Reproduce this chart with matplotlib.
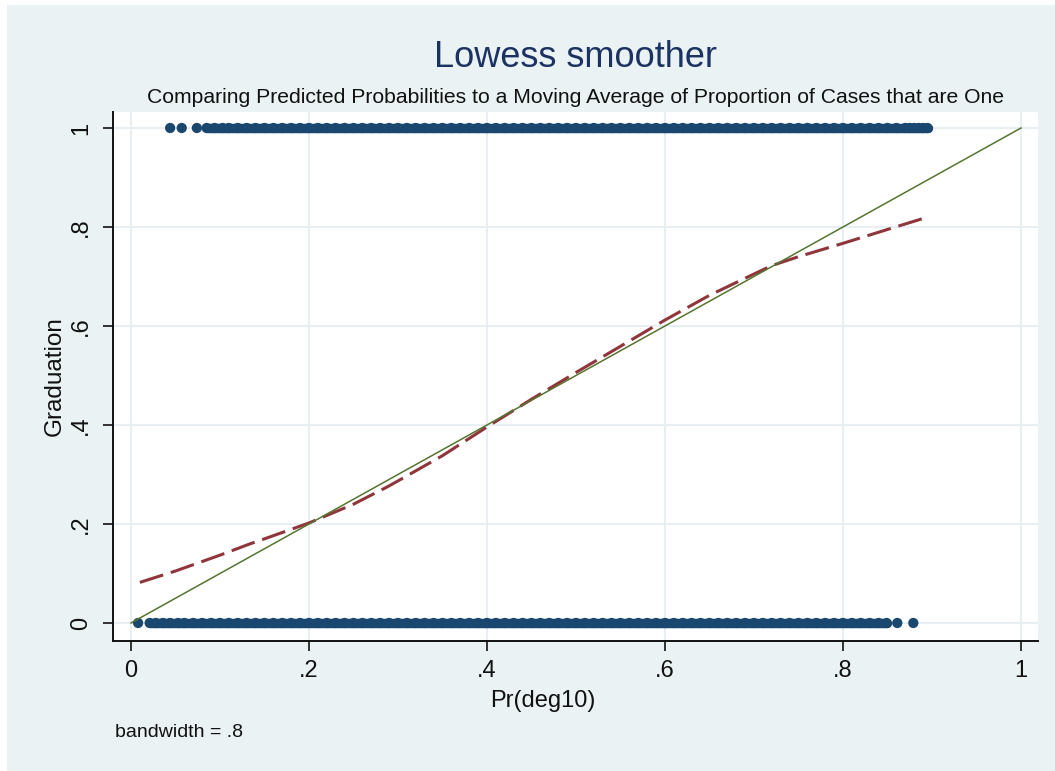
import matplotlib
matplotlib.use("Agg")
import matplotlib.pyplot as plt
from matplotlib.patches import Rectangle

plt.rcParams['font.family'] = ['Liberation Sans', 'DejaVu Sans']

# ---------------- data ----------------
title = "Lowess smoother"
subtitle = "Comparing Predicted Probabilities to a Moving Average of Proportion of Cases that are One"
xlabel = "Pr(deg10)"
ylabel = "Graduation"
note = "bandwidth = .8"

tick_values = [0, 0.2, 0.4, 0.6, 0.8, 1]
tick_labels = ["0", ".2", ".4", ".6", ".8", "1"]

# predicted probabilities of cases with graduation = 1
grad1_x = [0.044, 0.057, 0.074, 0.085, 0.094, 0.103,
           0.11, 0.12, 0.13, 0.14, 0.15, 0.16, 0.17, 0.18, 0.19, 0.20,
           0.21, 0.22, 0.23, 0.24, 0.25, 0.26, 0.27, 0.28, 0.29, 0.30,
           0.31, 0.32, 0.33, 0.34, 0.35, 0.36, 0.37, 0.38, 0.39, 0.40,
           0.41, 0.42, 0.43, 0.44, 0.45, 0.46, 0.47, 0.48, 0.49, 0.50,
           0.51, 0.52, 0.53, 0.54, 0.55, 0.56, 0.57, 0.58, 0.59, 0.60,
           0.61, 0.62, 0.63, 0.64, 0.65, 0.66, 0.67, 0.68, 0.69, 0.70,
           0.71, 0.72, 0.73, 0.74, 0.75, 0.76, 0.77, 0.78, 0.79, 0.80,
           0.81, 0.82, 0.83, 0.84, 0.85, 0.86, 0.87, 0.875, 0.88, 0.885,
           0.89, 0.895]
grad1_y = [1] * len(grad1_x)

# predicted probabilities of cases with graduation = 0
grad0_x = [0.008, 0.021, 0.028, 0.036, 0.044, 0.053,
           0.06, 0.07, 0.08, 0.09, 0.10,
           0.11, 0.12, 0.13, 0.14, 0.15, 0.16, 0.17, 0.18, 0.19, 0.20,
           0.21, 0.22, 0.23, 0.24, 0.25, 0.26, 0.27, 0.28, 0.29, 0.30,
           0.31, 0.32, 0.33, 0.34, 0.35, 0.36, 0.37, 0.38, 0.39, 0.40,
           0.41, 0.42, 0.43, 0.44, 0.45, 0.46, 0.47, 0.48, 0.49, 0.50,
           0.51, 0.52, 0.53, 0.54, 0.55, 0.56, 0.57, 0.58, 0.59, 0.60,
           0.61, 0.62, 0.63, 0.64, 0.65, 0.66, 0.67, 0.68, 0.69, 0.70,
           0.71, 0.72, 0.73, 0.74, 0.75, 0.76, 0.77, 0.78, 0.79, 0.80,
           0.81, 0.82, 0.83, 0.84, 0.849, 0.861, 0.879]
grad0_y = [0] * len(grad0_x)

# lowess smooth
lowess_x = [0.01, 0.05, 0.10, 0.134, 0.15, 0.20, 0.25, 0.288, 0.30, 0.35,
            0.40, 0.45, 0.50, 0.55, 0.60, 0.65, 0.70, 0.72, 0.75, 0.80,
            0.85, 0.895]
lowess_y = [0.082, 0.105, 0.137, 0.160, 0.170, 0.202, 0.240, 0.275, 0.287, 0.338,
            0.396, 0.452, 0.506, 0.559, 0.612, 0.662, 0.705, 0.722, 0.740, 0.767,
            0.795, 0.820]

# 45-degree reference line
ref_x = [0, 1]
ref_y = [0, 1]

# ---------------- style ----------------
W, H = 1055, 771
BG = '#EAF2F3'
GRID = '#E8EFF2'
NAVY = '#1A476F'
MAROON = '#90353B'
GREEN = '#55752F'

fig = plt.figure(figsize=(W / 100, H / 100), dpi=100)
fig.patch.set_facecolor('white')
fig.patches.append(Rectangle((7 / W, 0), 1 - 7 / W, 1 - 5 / H,
                             transform=fig.transFigure, facecolor=BG,
                             edgecolor='none', zorder=-10))


def px(x, y):
    return x / W, 1 - y / H


left, right, top, bottom = 113, 1038, 112, 641
ax = fig.add_axes([left / W, 1 - bottom / H, (right - left) / W, (bottom - top) / H])
ax.set_facecolor('white')

# data limits derived from pixel positions of ticks
ax.set_xlim(-0.0202, 1.0191)
ax.set_ylim(-0.0364, 1.0323)

ax.set_xticks(tick_values)
ax.set_xticklabels(tick_labels)
ax.set_yticks(tick_values)
ax.set_yticklabels(tick_labels, rotation=90, va='center')

for s in ['top', 'right']:
    ax.spines[s].set_visible(False)
for s in ['left', 'bottom']:
    ax.spines[s].set_linewidth(1.4)
    ax.spines[s].set_color('#111111')

ax.tick_params(axis='both', direction='out', length=7, width=1.2,
               colors='#111111', labelsize=17)
ax.tick_params(axis='x', pad=6.5)
ax.tick_params(axis='y', pad=8)

ax.grid(True, color=GRID, linewidth=1.5, zorder=0)
ax.set_axisbelow(True)

MARKER_PT = 7.4  # marker diameter in points


def draw_cases(xs, ys):
    ax.scatter(xs, ys, s=MARKER_PT ** 2, color=NAVY, edgecolors='none', zorder=3)
    # overlapping clouds of points: fill between close neighbours
    run = [0]
    for i in range(1, len(xs)):
        if xs[i] - xs[i - 1] <= 0.0105:
            run.append(i)
        else:
            if len(run) > 1:
                ax.plot([xs[j] for j in run], [ys[j] for j in run], color=NAVY,
                        linewidth=MARKER_PT * 0.92, solid_capstyle='round', zorder=3)
            run = [i]
    if len(run) > 1:
        ax.plot([xs[j] for j in run], [ys[j] for j in run], color=NAVY,
                linewidth=MARKER_PT * 0.92, solid_capstyle='round', zorder=3)


draw_cases(grad1_x, grad1_y)
draw_cases(grad0_x, grad0_y)

ax.plot(lowess_x, lowess_y, color=MAROON, linewidth=2.2, dashes=(8, 2.6),
        dash_capstyle='butt', zorder=4)
ax.plot(ref_x, ref_y, color=GREEN, linewidth=1.1, zorder=5)

cx = (left + right) / 2
fig.text(*px(cx, 67), title, ha='center', va='baseline', fontsize=26, color='#1B3263')
fig.text(*px(cx, 103), subtitle, ha='center', va='baseline', fontsize=15.2, color='#111111')
fig.text(*px(543, 707), xlabel, ha='center', va='baseline', fontsize=17, color='#111111')
fig.text(*px(61, 376), ylabel, ha='center', va='baseline', rotation=90,
         rotation_mode='anchor', fontsize=17.5, color='#111111')
fig.text(*px(115, 737), note, ha='left', va='baseline', fontsize=14, color='#111111')

fig.savefig('out.png', dpi=100, facecolor=fig.get_facecolor())
